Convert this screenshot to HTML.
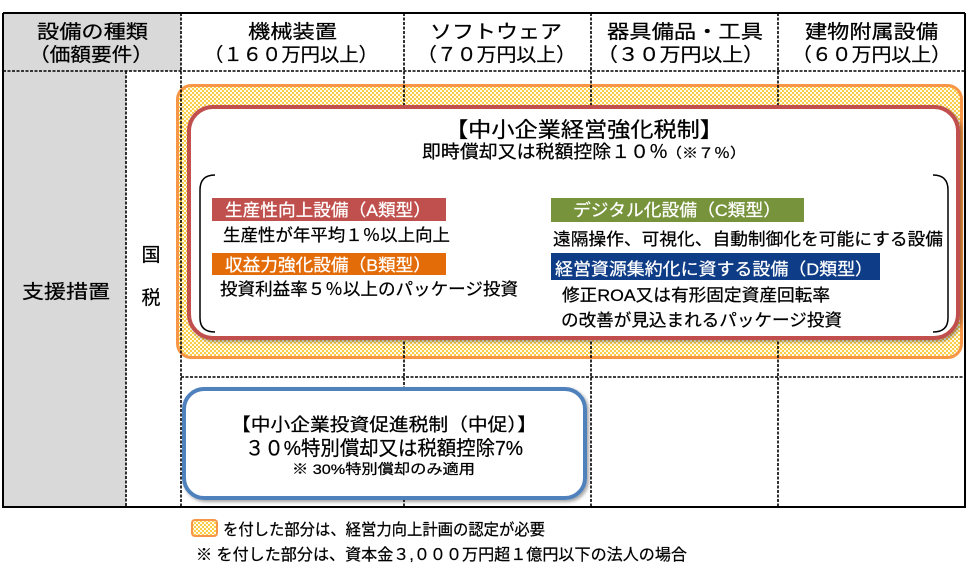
<!DOCTYPE html>
<html><head><meta charset="utf-8"><style>
html,body{margin:0;padding:0;background:#fff;}
svg{display:block;}
text{font-family:"Liberation Sans","Noto Sans CJK JP",sans-serif;fill:#000;stroke:#000;stroke-width:0.25px;}
text.w{fill:#fff;stroke:#fff;}
</style></head><body>
<svg width="969" height="564" viewBox="0 0 969 564" xmlns="http://www.w3.org/2000/svg">
<defs>
<pattern id="hatch" width="4" height="4" patternUnits="userSpaceOnUse">
<rect width="4" height="4" fill="#fffbe8"/>
<rect x="0" y="0" width="2" height="2" fill="#f9cd4a"/>
<rect x="2" y="2" width="2" height="2" fill="#f9cd4a"/>
</pattern>
<filter id="sh" x="-5%" y="-5%" width="110%" height="115%">
<feDropShadow dx="2" dy="2" stdDeviation="1.5" flood-color="#000" flood-opacity="0.35"/>
</filter>
</defs>

<!-- gray fills -->
<rect x="3" y="13" width="178" height="58" fill="#d9d9d9"/>
<rect x="3" y="71" width="123" height="436" fill="#d9d9d9"/>

<!-- orange hatched box -->
<rect x="177.5" y="85.5" width="784" height="272" rx="14" fill="url(#hatch)" stroke="#f79646" stroke-width="3"/>

<!-- dashed grid lines -->
<g stroke="#000" stroke-width="1.6" stroke-dasharray="3,1.5" fill="none">
<line x1="3" y1="71" x2="965" y2="71"/>
<line x1="181" y1="377" x2="965" y2="377"/>
<line x1="181" y1="13" x2="181" y2="507"/>
<line x1="404" y1="13" x2="404" y2="507"/>
<line x1="591" y1="13" x2="591" y2="507"/>
<line x1="778" y1="13" x2="778" y2="507"/>
<line x1="126" y1="71" x2="126" y2="507"/>
</g>
<!-- solid outer border -->
<g stroke="#000" stroke-width="2" fill="none">
<line x1="3" y1="13" x2="965" y2="13"/>
<line x1="3" y1="13" x2="3" y2="507"/>
<line x1="965" y1="13" x2="965" y2="507"/>
<line x1="2" y1="507" x2="966" y2="507"/>
</g>

<!-- header text -->
<g font-size="19" text-anchor="middle">
<text x="92.5" y="38" textLength="111" lengthAdjust="spacingAndGlyphs">設備の種類</text>
<text x="91" y="61" textLength="124" lengthAdjust="spacingAndGlyphs">（価額要件）</text>
<text x="292.5" y="38" textLength="89" lengthAdjust="spacingAndGlyphs">機械装置</text>
<text x="291" y="61" textLength="174" lengthAdjust="spacingAndGlyphs">（１６０万円以上）</text>
<text x="496" y="38" textLength="132" lengthAdjust="spacingAndGlyphs">ソフトウェア</text>
<text x="496.5" y="61" textLength="159" lengthAdjust="spacingAndGlyphs">（７０万円以上）</text>
<text x="685" y="38" textLength="156" lengthAdjust="spacingAndGlyphs">器具備品・工具</text>
<text x="680.5" y="61" textLength="167" lengthAdjust="spacingAndGlyphs">（３０万円以上）</text>
<text x="871.5" y="38" textLength="133" lengthAdjust="spacingAndGlyphs">建物附属設備</text>
<text x="871.5" y="61" textLength="159" lengthAdjust="spacingAndGlyphs">（６０万円以上）</text>
<text x="66" y="298" textLength="88" lengthAdjust="spacingAndGlyphs">支援措置</text>
<text x="151" y="261">国</text>
<text x="151" y="304">税</text>
</g>

<!-- red box -->
<rect x="189" y="107" width="769" height="231" rx="24" fill="#fff" stroke="#c0504d" stroke-width="4" filter="url(#sh)"/>

<text x="584" y="137" font-size="21" text-anchor="middle" textLength="278" lengthAdjust="spacingAndGlyphs">【中小企業経営強化税制】</text>
<text x="422" y="158" font-size="18" textLength="246" lengthAdjust="spacingAndGlyphs">即時償却又は税額控除１０％</text>
<text x="666" y="158" font-size="14" textLength="80" lengthAdjust="spacingAndGlyphs">（※７％）</text>

<!-- brackets -->
<path d="M215,175 Q200,175 200,190 L200,318 Q200,332 215,332" fill="none" stroke="#000" stroke-width="1.5"/>
<path d="M933,175 Q948,175 948,190 L948,318 Q948,332 933,332" fill="none" stroke="#000" stroke-width="1.5"/>

<!-- labels -->
<rect x="212" y="198" width="234" height="23" fill="#c0504d"/>
<text class="w" x="225" y="216" font-size="17" textLength="206" lengthAdjust="spacingAndGlyphs">生産性向上設備（A類型）</text>
<text x="223" y="241" font-size="17" textLength="227" lengthAdjust="spacingAndGlyphs">生産性が年平均１％以上向上</text>

<rect x="212" y="253" width="234" height="22" fill="#e36c09"/>
<text class="w" x="225" y="271" font-size="17" textLength="206" lengthAdjust="spacingAndGlyphs">収益力強化設備（B類型）</text>
<text x="220" y="295" font-size="17" textLength="298" lengthAdjust="spacingAndGlyphs">投資利益率５％以上のパッケージ投資</text>

<rect x="551" y="198" width="253" height="24" fill="#77933c"/>
<text class="w" x="573" y="216" font-size="17" textLength="208" lengthAdjust="spacingAndGlyphs">デジタル化設備（C類型）</text>
<text x="553" y="245" font-size="17" textLength="390" lengthAdjust="spacingAndGlyphs">遠隔操作、可視化、自動制御化を可能にする設備</text>

<rect x="551" y="253" width="329" height="27" fill="#0f3c86"/>
<text class="w" x="555" y="275" font-size="17" textLength="318" lengthAdjust="spacingAndGlyphs">経営資源集約化に資する設備（D類型）</text>
<text x="562" y="301" font-size="17" textLength="268" lengthAdjust="spacingAndGlyphs">修正ROA又は有形固定資産回転率</text>
<text x="561" y="326" font-size="17" textLength="281" lengthAdjust="spacingAndGlyphs">の改善が見込まれるパッケージ投資</text>

<!-- blue box -->
<rect x="184" y="389" width="401" height="109" rx="20" fill="#fff" stroke="#4f81bd" stroke-width="4" filter="url(#sh)"/>
<text x="231" y="431" font-size="18" textLength="306" lengthAdjust="spacingAndGlyphs">【中小企業投資促進税制（中促）】</text>
<text x="245" y="455" font-size="20" textLength="278" lengthAdjust="spacingAndGlyphs">３０%特別償却又は税額控除7%</text>
<text x="292" y="474" font-size="14" textLength="183" lengthAdjust="spacingAndGlyphs">※ 30%特別償却のみ適用</text>

<!-- footer -->
<rect x="192" y="520" width="25" height="16" rx="3" fill="url(#hatch)" stroke="#f79646" stroke-width="2"/>
<text x="223" y="535" font-size="16" textLength="322" lengthAdjust="spacingAndGlyphs">を付した部分は、経営力向上計画の認定が必要</text>
<text x="196" y="560" font-size="16" textLength="491" lengthAdjust="spacingAndGlyphs">※ を付した部分は、資本金３,０００万円超１億円以下の法人の場合</text>
</svg>
</body></html>
